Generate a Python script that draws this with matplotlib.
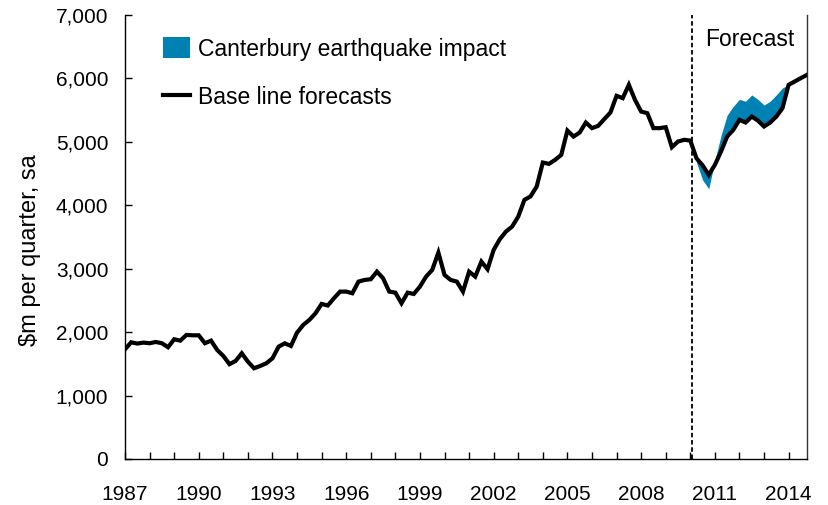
import numpy as np
import matplotlib
matplotlib.use("Agg")
import matplotlib.pyplot as plt
from matplotlib.ticker import FuncFormatter, MultipleLocator
from matplotlib.patches import Patch
from matplotlib.lines import Line2D

plt.rcParams['font.family'] = ['Liberation Sans', 'DejaVu Sans']

start_year = 1987
forecast_start = 2010.08

base_line = [
    1730, 1840, 1820, 1835, 1825, 1845, 1825, 1762, 1888, 1866,
    1956, 1950, 1950, 1825, 1866, 1719, 1625, 1495, 1546, 1667,
    1535, 1430, 1467, 1509, 1588, 1771, 1824, 1782, 1992, 2113,
    2192, 2297, 2445, 2420, 2534, 2639, 2639, 2613, 2797, 2823,
    2834, 2954, 2850, 2639, 2623, 2455, 2623, 2602, 2718, 2876,
    2981, 3254, 2902, 2823, 2797, 2639, 2954, 2876, 3112, 2992,
    3297, 3465, 3586, 3664, 3822, 4085, 4140, 4295, 4674, 4653,
    4716, 4795, 5178, 5084, 5147, 5305, 5216, 5252, 5358, 5462,
    5726, 5689, 5899, 5662, 5478, 5452, 5216, 5216, 5231, 4916,
    5005, 5032, 5021, 4742, 4630, 4479, 4637, 4847, 5084, 5189,
    5347, 5305, 5399, 5336, 5242, 5305, 5399, 5531, 5899, 5952,
    6005, 6057,
]

# With Canterbury earthquake impact, from the forecast start (quarter index 92) onward
quake_start_index = 92
with_quake = [
    5021, 4680, 4400, 4260, 4700, 5100, 5420, 5560, 5670, 5640,
    5740, 5670, 5580, 5640, 5740, 5850, 5899, 5952, 6005, 6057,
]

ytick_values = [0, 1000, 2000, 3000, 4000, 5000, 6000, 7000]
xtick_years = [1987, 1990, 1993, 1996, 1999, 2002, 2005, 2008, 2011, 2014]

blue = '#0081B4'

n = len(base_line)
x = start_year + np.arange(n) / 4.0
xq = x[quake_start_index:quake_start_index + len(with_quake)]
bq = np.array(base_line[quake_start_index:quake_start_index + len(with_quake)])

fig = plt.figure(figsize=(8.29, 5.05), dpi=100)
ax = fig.add_axes([0.1508, 0.0911, 0.8227, 0.8792])

ax.fill_between(xq, bq, with_quake, color=blue, linewidth=0, zorder=2)
ax.plot(x, base_line, color='black', linewidth=3.0, zorder=3, solid_joinstyle='miter')
ax.axvline(forecast_start, color='black', linestyle=(0, (2.5, 1.5)), linewidth=1.3, zorder=1)

ax.set_xlim(x[0], x[-1])
ax.set_ylim(0, 7000)
ax.set_yticks(ytick_values)
ax.yaxis.set_major_formatter(FuncFormatter(lambda v, p: f"{int(v):,}"))
ax.set_xticks(xtick_years)
ax.set_xticklabels([str(y) for y in xtick_years])
ax.xaxis.set_minor_locator(MultipleLocator(1))

ax.tick_params(axis='y', direction='in', length=5, width=1, labelsize=15, pad=12)
ax.tick_params(axis='x', which='both', direction='in', length=5, width=1, labelsize=15, pad=19)

ax.spines['top'].set_visible(False)
for s in ['left', 'bottom', 'right']:
    ax.spines[s].set_linewidth(1.0)
ax.spines['right'].set_color('#333333')

fig.text(30 / 829, 1 - 250 / 505, '$m per quarter, sa', rotation=90,
         fontsize=17, ha='center', va='center')

ax.text(0.916, 0.944, 'Forecast', transform=ax.transAxes, fontsize=16.5,
        ha='center', va='center')

handles = [Patch(facecolor=blue, edgecolor='none'),
           Line2D([0], [0], color='black', linewidth=3.0)]
labels = ['Canterbury earthquake impact', 'Base line forecasts']
ax.legend(handles, labels, loc='upper left', bbox_to_anchor=(0.042, 0.970),
          frameon=False, fontsize=16.5, handlelength=1.18, handleheight=1.0,
          handletextpad=0.35, labelspacing=1.1, borderaxespad=0)

fig.savefig('out.png', dpi=100)
